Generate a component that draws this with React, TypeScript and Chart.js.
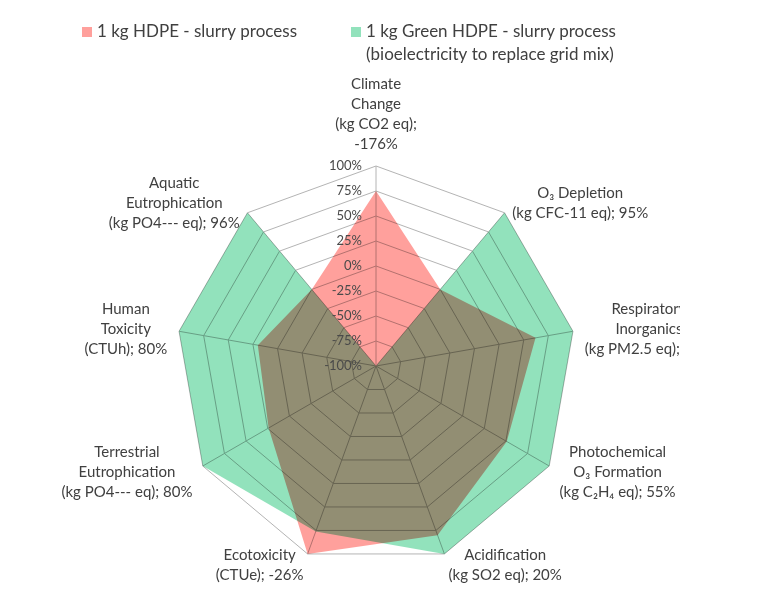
import React, { useEffect, useRef } from "react";
import { Chart, registerables } from "chart.js";

Chart.register(...registerables);

// ---------- data ----------
const categories: string[][] = [
  ["Climate", "Change", "(kg CO2 eq);", "-176%"],
  ["O₃ Depletion", "(kg CFC-11 eq); 95%"],
  ["Respiratory", "Inorganics", "(kg PM2.5 eq); 62%"],
  ["Photochemical", "O₃ Formation", "(kg C₂H₄ eq); 55%"],
  ["Acidification", "(kg SO2 eq); 20%"],
  ["Ecotoxicity", "(CTUe); -26%"],
  ["Terrestrial", "Eutrophication", "(kg PO4--- eq); 80%"],
  ["Human", "Toxicity", "(CTUh); 80%"],
  ["Aquatic", "Eutrophication", "(kg PO4--- eq); 96%"],
];

const seriesNames = [
  "1 kg HDPE - slurry process",
  "1 kg Green HDPE - slurry process (bioelectricity to replace grid mix)",
];
const legendLines: string[][] = [
  ["1 kg HDPE - slurry process"],
  ["1 kg Green HDPE - slurry process", "(bioelectricity to replace grid mix)"],
];

const hdpeValues = [75, 0, 62, 51, 80, 100, 24, 20, 0];
const greenHdpeValues = [-100, 100, 100, 100, 100, 76, 100, 100, 100];

const axisMin = -100;
const axisMax = 100;
const axisStep = 25;

// ---------- style ----------
const FONT = "Lato, 'Open Sans', sans-serif";
const TEXT_COLOR = "#404040";
const TICK_COLOR = "#4a4a4a";
const PINK = "#FFA09C";
const GREEN = "#92E2BC";
const GRID = "#b4b4b4";
const LABEL_SIZE = 15;
const LABEL_LINE = 20;
const TICK_SIZE = 13;
const LEGEND_SIZE = 17;
const LEGEND_LINE = 23;

const customPlugin = {
  id: "custom",
  beforeDraw(chart: any) {
    const ctx = chart.ctx;
    ctx.save();
    ctx.fillStyle = "#ffffff";
    ctx.fillRect(0, 0, chart.width, chart.height);
    ctx.restore();
  },
  beforeDatasetsDraw(chart: any) {
    chart.ctx.save();
    chart.ctx.globalCompositeOperation = "multiply";
  },
  afterDatasetsDraw(chart: any) {
    chart.ctx.restore();
  },
  afterDraw(chart: any) {
    const ctx = chart.ctx;
    const scale = chart.scales.r;
    ctx.save();

    // tick labels along first axis
    ctx.font = `${TICK_SIZE}px ${FONT}`;
    ctx.fillStyle = TICK_COLOR;
    ctx.textAlign = "right";
    ctx.textBaseline = "middle";
    scale.ticks.forEach((t: any) => {
      const d = scale.getDistanceFromCenterForValue(t.value);
      ctx.fillText(t.label, scale.xCenter - 14, scale.yCenter - d);
    });

    // point labels
    ctx.font = `${LABEL_SIZE}px ${FONT}`;
    ctx.fillStyle = TEXT_COLOR;
    ctx.textAlign = "center";
    const labels = chart.data.labels as string[][];
    const n = labels.length;
    labels.forEach((lines, i) => {
      const angle = (i * 360) / n;
      const p = scale.getPointPosition(i, scale.drawingArea + 12);
      const bw = Math.max(...lines.map((l) => ctx.measureText(l).width));
      const bh = lines.length * LABEL_LINE;
      let left: number;
      if (angle === 0 || angle === 180) left = p.x - bw / 2;
      else if (angle < 180) left = p.x;
      else left = p.x - bw;
      let top: number;
      if (angle === 0) top = p.y - bh;
      else if (angle === 180) top = p.y;
      else top = p.y - bh / 2;
      lines.forEach((l, k) => {
        ctx.fillText(l, left + bw / 2, top + LABEL_LINE * (k + 0.5));
      });
    });

    // legend
    ctx.font = `${LEGEND_SIZE}px ${FONT}`;
    ctx.textAlign = "left";
    const legendX = [82, 351];
    const colors = [PINK, GREEN];
    legendLines.forEach((lines, i) => {
      ctx.fillStyle = colors[i];
      ctx.fillRect(legendX[i], 27, 10, 10);
      ctx.fillStyle = TEXT_COLOR;
      lines.forEach((l, k) => ctx.fillText(l, legendX[i] + 15, 32 + k * LEGEND_LINE));
    });
    ctx.restore();
  },
};

export default function App() {
  const ref = useRef<HTMLCanvasElement | null>(null);
  useEffect(() => {
    if (!ref.current) return;
    const chart = new Chart(ref.current, {
      type: "radar",
      data: {
        labels: categories,
        datasets: [
          {
            label: seriesNames[0],
            data: hdpeValues,
            backgroundColor: PINK,
            borderWidth: 0,
            pointRadius: 0,
            fill: "start",
          },
          {
            label: seriesNames[1],
            data: greenHdpeValues,
            backgroundColor: GREEN,
            borderWidth: 0,
            pointRadius: 0,
            fill: "start",
          },
        ],
      },
      options: {
        responsive: false,
        animation: false,
        layout: { padding: { left: 176, right: 104, top: 166, bottom: 27 } },
        plugins: { legend: { display: false }, tooltip: { enabled: false } },
        scales: {
          r: {
            min: axisMin,
            max: axisMax,
            ticks: {
              stepSize: axisStep,
              display: false,
              callback: (v: any) => `${v}%`,
            },
            grid: { color: GRID, lineWidth: 1 },
            angleLines: { color: GRID, lineWidth: 1 },
            pointLabels: { display: false },
          },
        },
      },
      plugins: [customPlugin],
    } as any);
    return () => chart.destroy();
  }, []);
  return (
    <div style={{ position: "absolute", left: 0, top: 0, width: 680, height: 593, background: "#fff" }}>
      <canvas ref={ref} width={680} height={593} style={{ width: 680, height: 593, display: "block" }} />
    </div>
  );
}
